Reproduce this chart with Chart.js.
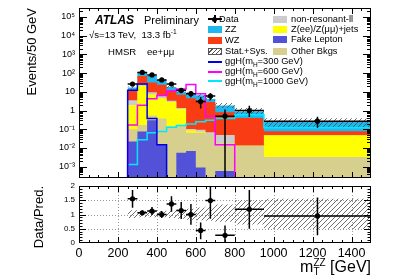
<!DOCTYPE html>
<html>
<head>
<meta charset="utf-8">
<script src="https://cdn.jsdelivr.net/npm/chart.js@4.4.1/dist/chart.umd.min.js"></script>
<style>
html,body{margin:0;padding:0;background:#fff;}
#wrap{position:relative;width:410px;height:277px;overflow:hidden;font-family:"Liberation Sans",Arial,sans-serif;color:#000;}
canvas{position:absolute;left:0;}
.t{position:absolute;white-space:nowrap;line-height:1;}
.lg{font-size:9.3px;}
.box{position:absolute;width:14px;height:7px;}
.ln{position:absolute;width:14px;height:2px;}
sub,sup{font-size:70%;line-height:0;}
</style>
</head>
<body>
<div id="wrap">
<canvas id="upper" width="410" height="182" style="top:0"></canvas>
<canvas id="lower" width="410" height="95" style="top:182px"></canvas>

<div class="t" style="left:95px;top:14px;font-size:12px;font-weight:bold;font-style:italic">ATLAS</div>
<div class="t" style="left:144px;top:14.5px;font-size:11px">Preliminary</div>
<div class="t" style="left:89px;top:30px;font-size:9.6px">&#8730;s=13 TeV,&nbsp; 13.3 fb<sup>-1</sup></div>
<div class="t" style="left:108px;top:47px;font-size:9.6px">HMSR&nbsp;&nbsp;&nbsp; ee+&#956;&#956;</div>

<!-- legend, left column -->
<div style="position:absolute;left:208px;top:18px;width:14px;height:1.5px;background:#000"></div>
<div style="position:absolute;left:214px;top:15px;width:1.5px;height:8px;background:#000"></div>
<div style="position:absolute;left:212px;top:16.5px;width:5px;height:5px;border-radius:50%;background:#000"></div>
<div class="t lg" style="left:219px;top:14.5px">Data</div>
<div class="box" style="left:208px;top:26px;background:#1fb8ee"></div>
<div class="t lg" style="left:225px;top:24.5px">ZZ</div>
<div class="box" style="left:208px;top:36.5px;background:#fa3c14"></div>
<div class="t lg" style="left:225px;top:35.5px">WZ</div>
<div class="box" style="left:208px;top:47.5px;width:12px;height:5px;border:1px solid #555;background:repeating-linear-gradient(-45deg,#555 0 1px,#fff 1px 3px)"></div>
<div class="t lg" style="left:225px;top:46.5px">Stat.+Sys.</div>
<div class="ln" style="left:208px;top:60.5px;background:#0000e6"></div>
<div class="t lg" style="left:225px;top:57px">ggH(m<sub>H</sub>=300 GeV)</div>
<div class="ln" style="left:208px;top:70.5px;background:#ff00ff"></div>
<div class="t lg" style="left:225px;top:67px">ggH(m<sub>H</sub>=600 GeV)</div>
<div class="ln" style="left:208px;top:80px;background:#00e8ff"></div>
<div class="t lg" style="left:225px;top:76.5px">ggH(m<sub>H</sub>=1000 GeV)</div>

<!-- legend, right column -->
<div class="box" style="left:273px;top:15.5px;background:#cccccc"></div>
<div class="t lg" style="left:291px;top:14.5px">non-resonant-ll</div>
<div class="box" style="left:273px;top:25.5px;background:#ffff00"></div>
<div class="t lg" style="left:291px;top:24.5px">Z(ee)/Z(&#956;&#956;)+jets</div>
<div class="box" style="left:273px;top:36px;background:#5252d8"></div>
<div class="t lg" style="left:291px;top:35px">Fake Lepton</div>
<div class="box" style="left:273px;top:47.5px;background:#d6cf8e"></div>
<div class="t lg" style="left:291px;top:46.5px">Other Bkgs</div>

<div class="t" style="right:39px;top:258px;font-size:16px">m<span style="display:inline-block;vertical-align:-3px;font-size:10px;line-height:9px;text-align:left"><span style="display:block">ZZ</span><span style="display:block">T</span></span> [GeV]</div>
</div>

<script>
// bin edges (GeV), 12 bins
const binEdges = [250, 300, 350, 400, 450, 500, 550, 600, 650, 700, 800, 950, 1500];

// background components, events / 50 GeV (bottom of stack first)
const fakeLepton = [0.022, 0.076, 0.3, 0.015, 0, 0.0055, 0.007, 0.0009, 0, 0.0006, 0, 0];
const otherBkgs  = [0.078, 0.094, 0.25, 0.365, 0.14, 0.145, 0.058, 0.064, 0.05, 0.017, 0.013, 0.0033];
const zJets      = [1.9, 20.8, 6.6, 4.1, 2.76, 1.05, 0.02, 0.01, 0, 0, 0, 0.044];
const nonResLL   = [1.5, 3, 2.4, 1.5, 0.4, 0.15, 0.02, 0.02, 0.02, 0.032, 0, 0];
const wzBkg      = [9.5, 46, 22.4, 18, 8.7, 5.65, 4.5, 3.5, 2.83, 0.75, 0.387, 0.03];
const zzBkg      = [4, 35, 39, 19, 6, 3.5, 3.4, 2.9, 1.3, 1.05, 0.5, 0.17];

// signal lines (0 = below the plotted range)
const ggH300  = [12, 26, 0.38, 0.015, 0, 0, 0, 0, 0, 0, 0, 0];
const ggH600  = [0.17, 1.9, 4.3, 6.4, 11, 14, 25, 8, 0.5, 0.015, 0, 0];
const ggH1000 = [0.0013, 0.028, 0.065, 0.076, 0.13, 0.16, 0.19, 0.25, 0.3, 0.38, 0.6, 0.12];

// data
const dataY     = [26, 109, 80, 43, 26, 12, 8, 3, 6, 0.5, 1.0, 0.27];
const dataErrLo = [5, 10, 9, 6.5, 5, 3.5, 2.8, 1.7, 2.4, 0.5, 0.55, 0.15];
const dataErrHi = [5, 10, 9, 6.5, 5, 3.5, 2.8, 2.3, 2.4, 0.65, 0.8, 0.2];

// relative stat+sys uncertainty of the prediction
const systUp   = [0.15, 0.12, 0.12, 0.12, 0.14, 0.17, 0.2, 0.25, 0.28, 0.35, 0.5, 0.55];
const systDown = [0.12, 0.1, 0.1, 0.1, 0.12, 0.15, 0.18, 0.2, 0.22, 0.25, 0.35, 0.5];

// data / prediction
const ratioY     = [1.55, 1.06, 1.12, 1.0, 1.37, 1.14, 1.0, 0.44, 1.49, 0.27, 1.18, 0.95];
const ratioErrLo = [0.31, 0.08, 0.14, 0.12, 0.27, 0.3, 0.36, 0.31, 0.64, 0.27, 0.68, 0.68];
const ratioErrHi = [0.31, 0.08, 0.14, 0.12, 0.27, 0.3, 0.37, 0.28, 0.48, 0.34, 0.68, 0.65];

// tick labels
const logTickValues = [1e-3, 1e-2, 1e-1, 1, 10, 1e2, 1e3, 1e4, 1e5];
const logTickText   = ['10\u207B\u00B3', '10\u207B\u00B2', '10\u207B\u00B9', '1', '10', '10\u00B2', '10\u00B3', '10\u2074', '10\u2075'];
const ratioTickValues = [0, 0.5, 1, 1.5, 2];
const ratioTickText   = ['0', '0.5', '1', '1.5', '2'];
const xTickValues = [0, 200, 400, 600, 800, 1000, 1200, 1400];

const FLOOR = 1e-7; // drawn below the axis for empty bins
const nBins = binEdges.length - 1;

function stepPoints(vals, lead) {
  const pts = lead ? [{x: binEdges[0], y: FLOOR}] : [];
  vals.forEach((v, i) => pts.push({x: binEdges[i], y: v > 0 ? v : FLOOR}));
  const last = vals[nBins - 1];
  pts.push({x: binEdges[nBins], y: last > 0 ? last : FLOOR});
  return pts;
}

// cumulative stack
const layers = [fakeLepton, otherBkgs, zJets, nonResLL, wzBkg, zzBkg];
const cumul = [];
layers.forEach((arr, k) => cumul.push(arr.map((v, i) => v + (k ? cumul[k - 1][i] : 0))));
const total = cumul[cumul.length - 1];
const binCenter = binEdges.slice(0, -1).map((e, i) => (e + binEdges[i + 1]) / 2);

function hatch() {
  const c = document.createElement('canvas');
  c.width = 5; c.height = 5;
  const g = c.getContext('2d');
  g.strokeStyle = '#4a4a4a'; g.lineWidth = 0.8;
  g.beginPath();
  g.moveTo(0, 5); g.lineTo(5, 0);
  g.moveTo(-1, 1); g.lineTo(1, -1);
  g.moveTo(4, 6); g.lineTo(6, 4);
  g.stroke();
  return g.createPattern(c, 'repeat');
}

const framePlugin = {
  id: 'frame',
  beforeDatasetsDraw(chart, args, opts) {
    if (!opts.grid) return;
    const {ctx, chartArea: a, scales} = chart;
    ctx.save();
    ctx.strokeStyle = '#999'; ctx.lineWidth = 1; ctx.setLineDash([1, 2]);
    ctx.beginPath();
    xTickValues.forEach(v => {
      if (v <= 0) return;
      const px = Math.round(scales.x.getPixelForValue(v)) + 0.5;
      ctx.moveTo(px, a.top); ctx.lineTo(px, a.bottom);
    });
    [0.5, 1, 1.5].forEach(v => {
      const py = Math.round(scales.y.getPixelForValue(v)) + 0.5;
      ctx.moveTo(a.left, py); ctx.lineTo(a.right, py);
    });
    ctx.stroke();
    ctx.restore();
  },
  afterDraw(chart, args, opts) {
    const {ctx, chartArea: a, scales} = chart;
    ctx.save();
    ctx.strokeStyle = '#000'; ctx.lineWidth = 1;
    ctx.beginPath();
    scales.x.ticks.forEach(t => {
      const px = Math.round(scales.x.getPixelForValue(t.value)) + 0.5;
      if (px < a.left || px > a.right) return;
      const len = xTickValues.includes(t.value) ? opts.xLen[0] : opts.xLen[1];
      ctx.moveTo(px, a.bottom); ctx.lineTo(px, a.bottom - len);
      ctx.moveTo(px, a.top); ctx.lineTo(px, a.top + len);
    });
    scales.y.ticks.forEach(t => {
      const py = Math.round(scales.y.getPixelForValue(t.value)) + 0.5;
      if (py < a.top || py > a.bottom) return;
      const len = opts.yMajor(t.value) ? opts.yLen[0] : opts.yLen[1];
      ctx.moveTo(a.left, py); ctx.lineTo(a.left + len, py);
      ctx.moveTo(a.right, py); ctx.lineTo(a.right - len, py);
    });
    ctx.stroke();
    ctx.strokeRect(Math.round(a.left) + 0.5, Math.round(a.top) + 0.5, Math.round(a.width) - 1, Math.round(a.height) - 1);
    ctx.restore();
  }
};

const errBarPlugin = {
  id: 'errBars',
  afterDatasetsDraw(chart, args, opts) {
    const {ctx, chartArea: a, scales: {x, y}} = chart;
    ctx.save();
    ctx.beginPath();
    ctx.rect(a.left, a.top, a.width, a.height);
    ctx.clip();
    ctx.strokeStyle = '#000'; ctx.lineWidth = 1.5;
    ctx.beginPath();
    opts.y.forEach((v, i) => {
      const px = x.getPixelForValue(binCenter[i]);
      const py = y.getPixelForValue(v);
      ctx.moveTo(x.getPixelForValue(binEdges[i]), py);
      ctx.lineTo(x.getPixelForValue(binEdges[i + 1]), py);
      const lo = v - opts.lo[i];
      const pyLo = lo > 0 ? y.getPixelForValue(lo) : a.bottom;
      ctx.moveTo(px, pyLo);
      ctx.lineTo(px, y.getPixelForValue(v + opts.hi[i]));
    });
    ctx.stroke();
    ctx.restore();
  }
};

function isPow10(v) {
  return logTickValues.some(t => Math.abs(t - v) / t < 1e-6);
}

const hatchPattern = hatch();
const fillColors = ['#5252d8', '#d6cf8e', '#ffff00', '#cccccc', '#fa3c14', '#1fb8ee'];

const upperSets = [];
cumul.forEach((c, k) => upperSets.push({
  data: stepPoints(c, false), stepped: true, fill: 'start',
  backgroundColor: fillColors[k], borderWidth: 0, pointRadius: 0, order: 5 + k
}));
upperSets.push({
  data: stepPoints(total.map((v, i) => v * (1 + systUp[i])), false), stepped: true,
  fill: {target: upperSets.length + 1}, backgroundColor: hatchPattern, borderWidth: 0, pointRadius: 0, order: 4
});
upperSets.push({
  data: stepPoints(total.map((v, i) => v * (1 - systDown[i])), false), stepped: true,
  fill: false, borderWidth: 0, pointRadius: 0, order: 4
});
[[ggH300, '#0000e6'], [ggH600, '#ff00ff'], [ggH1000, '#00e8ff']].forEach(([arr, col]) => upperSets.push({
  data: stepPoints(arr, true), stepped: true, fill: false,
  borderColor: col, borderWidth: 1.5, pointRadius: 0, order: 3
}));
upperSets.push({
  data: dataY.map((v, i) => ({x: binCenter[i], y: v})), showLine: false,
  pointRadius: 2.6, pointBackgroundColor: '#000', pointBorderWidth: 0, order: 1
});

new Chart(document.getElementById('upper'), {
  type: 'line',
  data: {datasets: upperSets},
  options: {
    responsive: false, animation: false, events: [],
    layout: {padding: {left: 0, right: 39, top: 8, bottom: 2}},
    plugins: {
      legend: {display: false}, tooltip: {enabled: false},
      frame: {xLen: [6, 3], yLen: [8, 4], yMajor: isPow10},
      errBars: {y: dataY, lo: dataErrLo, hi: dataErrHi}
    },
    scales: {
      x: {
        type: 'linear', min: 0, max: 1500,
        ticks: {display: false, stepSize: 50, autoSkip: false},
        grid: {display: false, drawTicks: false}, border: {display: false},
        afterFit: s => { s.height = 0; s.paddingLeft = 0; s.paddingRight = 0; }
      },
      y: {
        type: 'logarithmic', min: 2.5e-4, max: 3e5,
        afterBuildTicks: s => {
          s.ticks = s.ticks.filter(t => {
            const m = t.value / Math.pow(10, Math.floor(Math.log10(t.value) + 1e-9));
            return Math.abs(m - Math.round(m)) < 1e-6;
          });
        },
        ticks: {
          autoSkip: false, padding: 4, color: '#000',
          font: {family: 'Liberation Sans', size: 9},
          callback: v => { const i = logTickValues.findIndex(t => Math.abs(t - v) / t < 1e-6); return i >= 0 ? logTickText[i] : ''; }
        },
        grid: {display: false, drawTicks: false}, border: {display: false},
        title: {display: true, text: 'Events/50 GeV', align: 'end', color: '#000',
          font: {family: 'Liberation Sans', size: 13}, padding: {top: 25, bottom: 0}},
        afterFit: s => { s.width = 79; s.paddingTop = 0; s.paddingBottom = 0; }
      }
    }
  },
  plugins: [framePlugin, errBarPlugin]
});

const lowerSets = [
  {data: stepPoints(systUp.map(u => 1 + u), false), stepped: true, fill: {target: 1},
   backgroundColor: hatchPattern, borderWidth: 0, pointRadius: 0, order: 3},
  {data: stepPoints(systDown.map(u => 1 - u), false), stepped: true, fill: false,
   borderWidth: 0, pointRadius: 0, order: 3},
  {data: ratioY.map((v, i) => ({x: binCenter[i], y: v})), showLine: false,
   pointRadius: 2.6, pointBackgroundColor: '#000', pointBorderWidth: 0, order: 1}
];

new Chart(document.getElementById('lower'), {
  type: 'line',
  data: {datasets: lowerSets},
  options: {
    responsive: false, animation: false, events: [],
    layout: {padding: {left: 0, right: 39, top: 2, bottom: 0}},
    plugins: {
      legend: {display: false}, tooltip: {enabled: false},
      frame: {grid: true, xLen: [6, 3], yLen: [7, 3.5],
        yMajor: v => ratioTickValues.some(t => Math.abs(t - v) < 1e-6)},
      errBars: {y: ratioY, lo: ratioErrLo, hi: ratioErrHi}
    },
    scales: {
      x: {
        type: 'linear', min: 0, max: 1500,
        ticks: {stepSize: 50, autoSkip: false, maxRotation: 0, padding: 3, color: '#000',
          font: {family: 'Liberation Sans', size: 12.5},
          callback: v => { const i = xTickValues.indexOf(v); return i >= 0 ? String(xTickValues[i]) : ''; }},
        grid: {display: false, drawTicks: false}, border: {display: false},
        afterFit: s => { s.height = 34; s.paddingLeft = 0; s.paddingRight = 0; }
      },
      y: {
        type: 'linear', min: 0, max: 2,
        ticks: {stepSize: 0.1, autoSkip: false, padding: 4, color: '#000',
          font: {family: 'Liberation Sans', size: 8},
          callback: v => { const i = ratioTickValues.findIndex(t => Math.abs(t - v) < 1e-6); return i >= 0 ? ratioTickText[i] : ''; }},
        grid: {display: false, drawTicks: false}, border: {display: false},
        title: {display: true, text: 'Data/Pred.', align: 'end', color: '#000',
          font: {family: 'Liberation Sans', size: 13}, padding: {top: 32, bottom: 0}},
        afterFit: s => { s.width = 79; s.paddingTop = 0; s.paddingBottom = 0; }
      }
    }
  },
  plugins: [framePlugin, errBarPlugin]
});
</script>
</body>
</html>
